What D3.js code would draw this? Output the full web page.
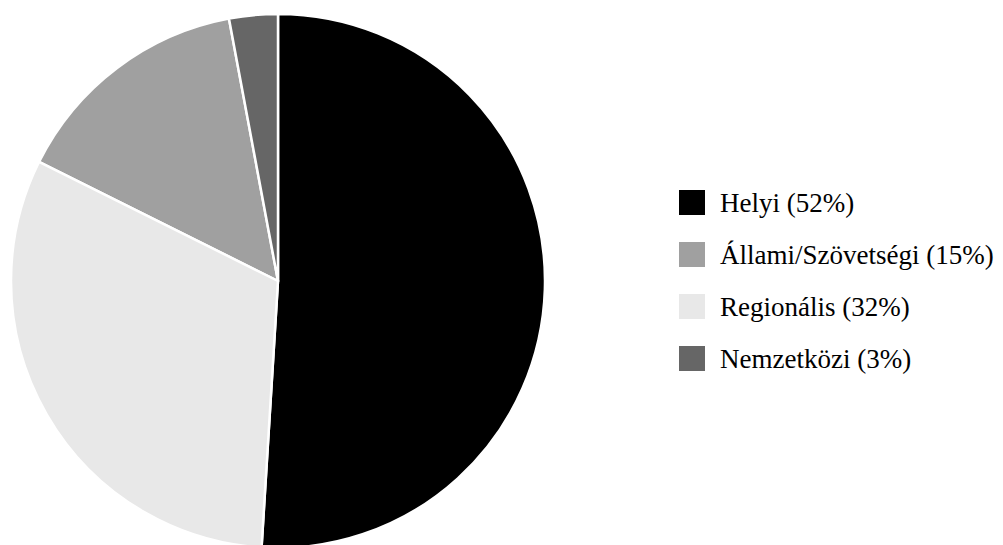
<!DOCTYPE html>
<html>
<head>
<meta charset="utf-8">
<script src="https://cdn.jsdelivr.net/npm/d3@7"></script>
</head>
<body style="margin:0">
<svg id="chart" width="1003" height="545" style="font-family: 'Liberation Serif', Tinos, serif;"></svg>
<script>
// Share of funding by level
const categories = ["Helyi", "Állami/Szövetségi", "Regionális", "Nemzetközi"];
const shares = [52, 15, 32, 3];
const colors = ["#000000", "#a0a0a0", "#e8e8e8", "#666666"];

const data = categories.map((c, i) => ({ name: c, value: shares[i], color: colors[i] }));

const svg = d3.select("#chart");
const cx = 278, cy = 281, radius = 267;

// d3.pie's default descending sort gives the clockwise order
const pie = d3.pie().value(d => d.value);
const arc = d3.arc().innerRadius(0).outerRadius(radius);

svg.append("g")
  .attr("transform", `translate(${cx},${cy})`)
  .selectAll("path")
  .data(pie(data))
  .join("path")
  .attr("d", arc)
  .attr("fill", d => d.data.color)
  .attr("stroke", "#fff")
  .attr("stroke-width", 2.5)
  .attr("stroke-linejoin", "round");

const legend = svg.append("g").attr("transform", "translate(679,190)");
const rowH = 52;

legend.selectAll("rect")
  .data(data)
  .join("rect")
  .attr("y", (d, i) => i * rowH)
  .attr("width", 26)
  .attr("height", 25)
  .attr("fill", d => d.color);

legend.selectAll("text")
  .data(data)
  .join("text")
  .attr("x", 41)
  .attr("y", (d, i) => i * rowH + 21.5)
  .attr("font-size", 27)
  .attr("font-family", "Liberation Serif")
  .style("font-family", '"Liberation Serif", Tinos, serif', "important")
  .text(d => d.name + " (" + d.value + "%)");
</script>
</body>
</html>
